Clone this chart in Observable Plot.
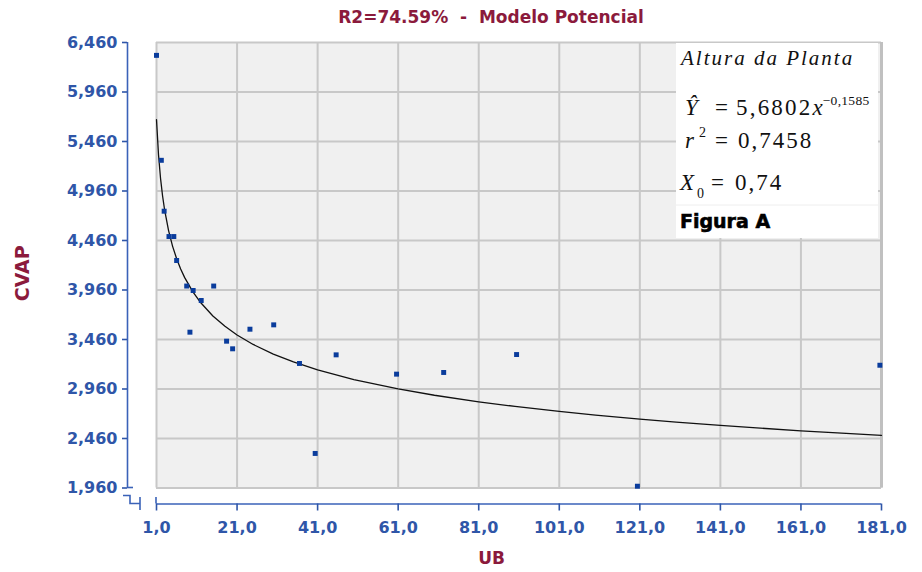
<!DOCTYPE html>
<html><head><meta charset="utf-8">
<script src="https://cdn.jsdelivr.net/npm/d3@7"></script>
<script src="https://cdn.jsdelivr.net/npm/@observablehq/plot@0.6"></script>
<style>
body{margin:0;background:#fff;}
#wrap{width:922px;height:572px;position:relative;overflow:hidden;background:#fff;}
#title{height:30px;font-family:"DejaVu Sans",sans-serif;font-weight:bold;font-size:17px;line-height:34px;color:#8b1a3c;white-space:pre;text-align:center;padding-left:60px;box-sizing:border-box;}
</style></head>
<body><div id="wrap"><div id="title">R2=74.59%  -  Modelo Potencial</div><div id="chart"></div></div>
<script>
// ticks
const xTicks = [1, 21, 41, 61, 81, 101, 121, 141, 161, 181];
const yTicks = [1.96, 2.46, 2.96, 3.46, 3.96, 4.46, 4.96, 5.46, 5.96, 6.46];
// observed points (UB, CVAP)
const ubValues = [1, 2.2, 2.9, 4.1, 5.3, 6.0, 8.5, 9.3, 10.1, 12.1, 15.2, 18.4, 19.9, 24.2, 30.1, 36.5, 40.4, 45.6, 60.6, 72.3, 90.4, 120.4, 180.6];
const cvapValues = [6.33, 5.27, 4.756, 4.50, 4.50, 4.258, 4.00, 3.534, 3.955, 3.854, 4.00, 3.443, 3.366, 3.564, 3.608, 3.218, 2.309, 3.305, 3.110, 3.127, 3.308, 1.978, 3.200];
// fitted curve
const curveUB = [1, 1.5, 2, 2.5, 3, 4, 5, 6, 7, 8, 10, 12, 15, 18, 21, 25, 30, 35, 41, 50, 61, 70, 81, 90, 101, 110, 121, 130, 141, 150, 161, 170, 181];
const curveCVAP = [5.680, 5.326, 5.089, 4.912, 4.773, 4.560, 4.401, 4.276, 4.173, 4.085, 3.943, 3.831, 3.698, 3.593, 3.506, 3.410, 3.313, 3.233, 3.153, 3.055, 2.961, 2.897, 2.831, 2.784, 2.733, 2.697, 2.656, 2.626, 2.592, 2.567, 2.538, 2.517, 2.492];

const points = ubValues.map((x, i) => ({x, y: cvapValues[i]}));
const curve = curveUB.map((x, i) => ({x, y: curveCVAP[i]}));

const fmtY = d => d3.format(".3f")(d).replace(".", ",");
const fmtX = d => d3.format(".1f")(d).replace(".", ",");

const labelBlue = "#2f56a8";
const axisBlue = "#3a62b8";
const dotBlue = "#0a3c9c";
const crimson = "#8b1a3c";

const chart = Plot.plot({
  width: 922, height: 542,
  marginLeft: 156, marginRight: 41, marginTop: 12, marginBottom: 84.5,
  x: {domain: [1, 181], label: null},
  y: {domain: [1.96, 6.46], label: null},
  style: {fontFamily: "'DejaVu Sans', sans-serif", background: "#fff", overflow: "visible"},
  marks: [
    Plot.frame({fill: "#f0f0f0", stroke: "none"}),
    Plot.gridX(xTicks, {stroke: "#c8c8c8", strokeOpacity: 1, strokeWidth: 2}),
    Plot.gridY(yTicks, {stroke: "#c8c8c8", strokeOpacity: 1, strokeWidth: 2}),
    Plot.ruleX([181], {stroke: "#c0c0c0", strokeWidth: 3}),
    Plot.ruleX([1], {y1: 1.96, y2: 6.46, dx: -29, stroke: axisBlue, strokeWidth: 1.6}),
    Plot.axisY(yTicks, {label: null, tickFormat: fmtY, dx: -29, tickSize: 5, tickPadding: 5, color: labelBlue, fontSize: 16, fontWeight: "bold", strokeWidth: 1.6}),
    Plot.ruleY([1.96], {x1: 1, x2: 181, dy: 16, stroke: axisBlue, strokeWidth: 1.6}),
    Plot.axisX(xTicks, {label: null, tickFormat: fmtX, dy: 16, tickSize: 7, tickPadding: 11, color: labelBlue, fontSize: 16, fontWeight: "bold", strokeWidth: 1.6}),
    Plot.line(curve, {x: "x", y: "y", stroke: "#111", strokeWidth: 1.3}),
    Plot.dot(points, {x: "x", y: "y", symbol: "square", r: 2.8, fill: dotBlue, stroke: "none"}),
    Plot.text(["UB"], {frameAnchor: "bottom", dx: -27.5, dy: 70.5, fill: crimson, fontSize: 17, fontWeight: "bold", lineAnchor: "middle"}),
    Plot.text(["CVAP"], {frameAnchor: "left", rotate: -90, dx: -134, dy: 36, fill: crimson, fontSize: 19, fontWeight: "bold"})
  ]
});
document.getElementById("chart").appendChild(chart);

// axis break decorations
const svg = d3.select(chart);
const x0 = chart.scale("x").apply(1);
const yb = chart.scale("y").apply(1.96);
const deco = svg.append("g").attr("fill", "none").attr("stroke", axisBlue).attr("stroke-width", 1.6);
deco.append("path").attr("d", `M${x0 - 29},${yb} H${x0 - 23}`);
deco.append("path").attr("d", `M${x0 - 33},${yb + 8} H${x0 - 26} V${yb + 16} H${x0 - 16}`);
deco.append("path").attr("d", `M${x0 - 16},${yb + 9.5} V${yb + 22.5}`);
deco.append("path").attr("d", `M${x0},${yb + 9.5} V${yb + 16}`);

// legend box
const lg = svg.append("g").attr("text-anchor", "start");
lg.append("rect").attr("x", 676).attr("y", 13).attr("width", 202).attr("height", 195).attr("fill", "#fff");
lg.append("line").attr("x1", 676).attr("x2", 878).attr("y1", 175).attr("y2", 175).attr("stroke", "#eeeeee");
const serif = "'Liberation Serif', 'Times New Roman', serif";
lg.append("text").attr("x", 681).attr("y", 35).attr("font-family", serif).attr("font-style", "italic")
  .attr("font-size", 21).attr("letter-spacing", 2).attr("fill", "#111").text("Altura da Planta");
// equation line
const eq = lg.append("text").attr("y", 85).attr("font-family", serif).attr("font-size", 23).attr("fill", "#111");
eq.append("tspan").attr("x", 685).attr("font-style", "italic").text("Ŷ");
eq.append("tspan").attr("x", 715).text("=");
eq.append("tspan").attr("x", 736).attr("letter-spacing", 2.2).text("5,6802");
eq.append("tspan").attr("font-style", "italic").text("x");
eq.append("tspan").attr("font-size", 13.5).attr("dy", -10).attr("letter-spacing", 0.3).text("−0,1585");
// r2 line
const r2 = lg.append("text").attr("y", 118).attr("font-family", serif).attr("font-size", 23).attr("fill", "#111");
r2.append("tspan").attr("x", 685).attr("font-style", "italic").text("r");
r2.append("tspan").attr("x", 699).attr("dy", -11).attr("font-size", 14).text("2");
r2.append("tspan").attr("x", 715).attr("dy", 11).text("=");
r2.append("tspan").attr("x", 738).attr("letter-spacing", 2).text("0,7458");
// X0 line
const x0t = lg.append("text").attr("y", 160).attr("font-family", serif).attr("font-size", 23).attr("fill", "#111");
x0t.append("tspan").attr("x", 680).attr("font-style", "italic").text("X");
x0t.append("tspan").attr("x", 697).attr("dy", 8).attr("font-size", 14).text("0");
x0t.append("tspan").attr("x", 711).attr("dy", -8).text("=");
x0t.append("tspan").attr("x", 735).attr("letter-spacing", 2).text("0,74");
// Figura A
lg.append("text").attr("x", 680).attr("y", 198).attr("font-family", "'DejaVu Sans', sans-serif").attr("font-weight", "bold")
  .attr("font-size", 19).attr("fill", "#000").attr("stroke", "#000").attr("stroke-width", 0.6).text("Figura A");
</script>
</body></html>
